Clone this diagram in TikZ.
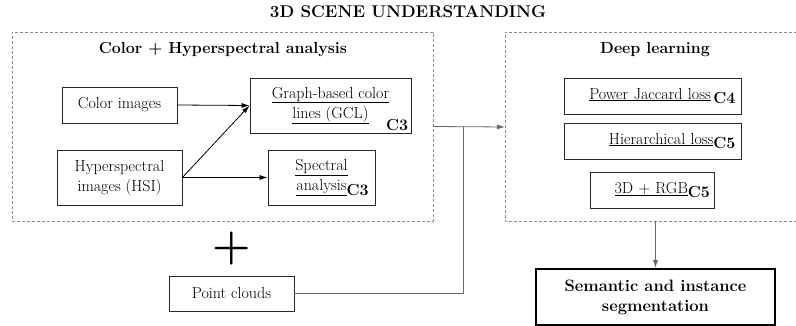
\documentclass[tikz,border=0pt]{standalone}
\usepackage{fontspec}
\usepackage{tikz}
\usetikzlibrary{positioning,arrows.meta}
\definecolor{boxline}{RGB}{40,40,40}
\definecolor{dashline}{RGB}{140,140,140}
\definecolor{linkline}{RGB}{105,105,105}

\begin{document}
\begin{tikzpicture}[x=1pt, y=-1pt,
	every node/.style={font=\fontsize{16}{20}\selectfont},
	blockbox/.style={draw=boxline, line width=0.9pt, inner sep=3pt, align=center},
	groupbox/.style={draw=dashline, line width=0.8pt, dash pattern=on 3pt off 2pt},
	headtext/.style={font=\fontsize{16}{20}\selectfont\bfseries},
	link/.style={draw=linkline, line width=0.8pt, -{Latex[length=8pt,width=5pt]}},
	blacklink/.style={draw=black, line width=0.8pt, -{Latex[length=8pt,width=5pt]}}]
			\useasboundingbox (0,0) rectangle (796,326);
			\node[font=\fontsize{17}{20}\selectfont\bfseries] (title) at (408,12) {3D SCENE UNDERSTANDING};
			% color + hyperspectral group
			\node[groupbox, minimum width=421, minimum height=189] (colorgrp) at (222.5,126.5) {};
			\node[headtext] (colorhead) at (223,50) {Color + Hyperspectral analysis};
			\node[blockbox, minimum width=115, minimum height=36] (colorimg) at (119.5,105) {Color images};
			\node[blockbox, minimum width=125, minimum height=55] (hsi) at (119.5,177.5) {Hyperspectral\\images (HSI)};
			\node[blockbox, minimum width=161, minimum height=55] (gcl) at (330.5,105.5) {\underline{Graph-based color}\\\underline{lines (GCL)}};
			\node[headtext, anchor=south east, inner sep=3pt] (gclref) at (gcl.south east) {C3};
			\node[blockbox, minimum width=107, minimum height=55] (spectral) at (321.5,177.5) {\underline{Spectral}\\\underline{analysis}\rlap{\raisebox{-0.7ex}{\textbf{C3}}}};
			\draw[blacklink] (colorimg.east) -- (gcl.west);
			\draw[blacklink] (hsi.east) -- (gcl.west);
			\draw[blacklink] (hsi.east) -- (spectral.west);
			% deep learning group
			\draw[groupbox] (797,32) -- (505,32) -- (505,221) -- (797,221);
			\coordinate (deepin) at (505,127);
			\coordinate (deepout) at (655.5,221);
			\node[headtext] (deephead) at (655,50) {Deep learning};
			\node[blockbox, minimum width=177, minimum height=36, text width=166, align=right] (jaccard) at (652.5,96) {\underline{Power Jaccard loss}\,\raisebox{-0.7ex}{\textbf{C4}}};
			\node[blockbox, minimum width=177, minimum height=36, text width=166, align=right] (hierloss) at (652.5,141) {\underline{Hierarchical loss}\raisebox{-0.7ex}{\textbf{C5}}};
			\node[blockbox, minimum width=124, minimum height=36, text width=116, align=right] (rgbd) at (652,190) {\underline{3D + RGB}\raisebox{-0.7ex}{\textbf{C5}}};
			% point clouds and output
			\node[font=\fontsize{44}{44}\selectfont\bfseries] (plus) at (232,249) {+};
			\node[blockbox, minimum width=125, minimum height=35] (clouds) at (231.5,293.5) {Point clouds};
			\node[blockbox, line width=1.8pt, draw=black, minimum width=239, minimum height=56, font=\fontsize{16.5}{20}\selectfont\bfseries] (seg) at (655.5,297) {Semantic and instance\\segmentation};
			\coordinate (merge) at (463,127);
			\draw[link] (colorgrp.east) -- (deepin);
			\draw[draw=linkline, line width=0.8pt] (clouds.east) -| (merge);
			\draw[link] (deepout) -- (seg.north);
\end{tikzpicture}
\end{document}
